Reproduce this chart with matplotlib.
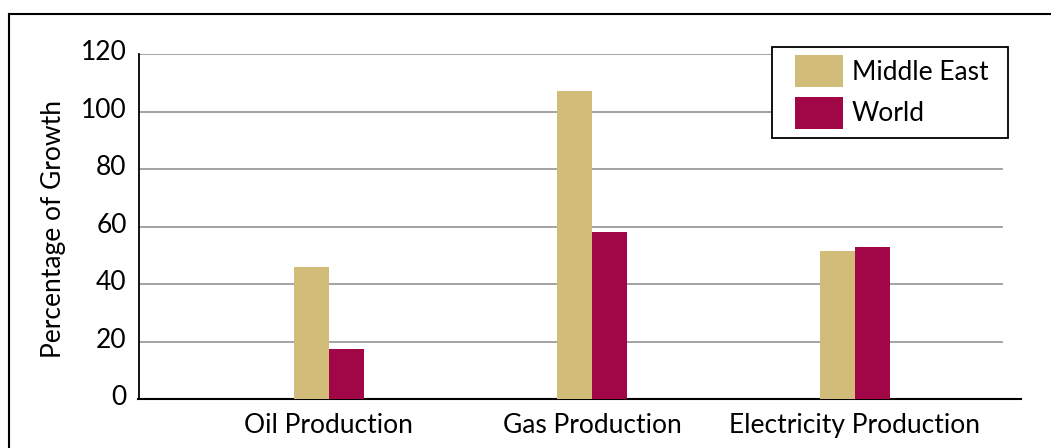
import numpy as np
from matplotlib import pyplot as plt
from matplotlib.lines import Line2D
from matplotlib.patches import Rectangle
from matplotlib.transforms import ScaledTranslation

categories = ["Oil Production", "Gas Production", "Electricity Production"]
middle_east = [46.1, 107.4, 51.6]
world = [17.5, 58.2, 53.0]
series_names = ["Middle East", "World"]
yticks = [0, 20, 40, 60, 80, 100, 120]

gold = "#D2BC7A"
crimson = "#A10746"

plt.rcParams["font.family"] = ["Lato", "DejaVu Sans"]
fs = 19

W, H = 1051, 448
fig = plt.figure(figsize=(W / 100, H / 100), dpi=100)

# axes box in pixels: left, top, right, bottom
left, top, right, bottom = 138.5, 54.3, 1020.7, 399.3
grid_end = 1001.7
ax = fig.add_axes([left / W, 1 - bottom / H, (right - left) / W, (bottom - top) / H])

x = np.arange(len(categories))
w = 0.133
ax.bar(x - w / 2, middle_east, w, color=gold, label=series_names[0], zorder=3)
ax.bar(x + w / 2, world, w, color=crimson, label=series_names[1], zorder=3)

ax.set_ylim(0, 120)
ax.set_xlim(-0.724, 2.63)
ax.set_yticks(yticks)
ax.set_xticks(x)
ax.set_xticklabels(categories)
ax.tick_params(axis="both", length=0, labelsize=fs)
ax.tick_params(axis="y", pad=8.5)
ax.tick_params(axis="x", pad=10)

# y labels sit a little above their gridlines
lift = ScaledTranslation(0, 4 / 100, fig.dpi_scale_trans)
for lab in ax.get_yticklabels():
    lab.set_transform(lab.get_transform() + lift)

frac = (grid_end - left) / (right - left)
for y in yticks[1:]:
    ax.axhline(y, xmin=0, xmax=frac, color="#9c9c9c", lw=1.3, zorder=1)

ax.spines["top"].set_visible(False)
ax.spines["right"].set_visible(False)
ax.spines["left"].set_linewidth(1.3)
ax.spines["bottom"].set_linewidth(1.5)

fig.text(54 / W, 1 - 229 / H, "Percentage of Growth", rotation=90,
         ha="center", va="center", fontsize=fs)

# legend with its own square white frame over the gridlines
ax.add_patch(Rectangle((771.7 / W, 1 - 138.3 / H), (1007.7 - 771.7) / W,
                       (138.3 - 46.7) / H, transform=fig.transFigure,
                       facecolor="white", edgecolor="black", lw=1.3,
                       zorder=4, clip_on=False))
fs_px = fs * 100 / 72
hh = (32 / fs_px - 0.245) / 0.65
ax.legend(loc="upper left", bbox_to_anchor=(795 / W, 1 - 55 / H),
          bbox_transform=fig.transFigure, frameon=False, fontsize=fs,
          borderpad=0, borderaxespad=0, handlelength=48 / fs_px,
          handleheight=hh, handletextpad=0.33,
          labelspacing=(41 - hh * fs_px) / fs_px + 0.3)

# outer frame (top and left edges)
fig.lines.append(Line2D([9.3 / W, 1], [1 - 14.3 / H] * 2,
                        transform=fig.transFigure, color="black", lw=1.5))
fig.lines.append(Line2D([9.3 / W] * 2, [0, 1 - 14.3 / H],
                        transform=fig.transFigure, color="black", lw=1.5))

plt.savefig("out.png", dpi=100)
